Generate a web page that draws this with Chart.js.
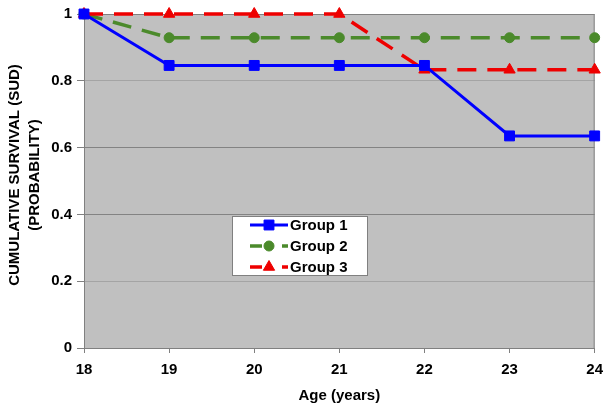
<!DOCTYPE html>
<html>
<head>
<meta charset="utf-8">
<script src="https://cdn.jsdelivr.net/npm/chart.js@4"></script>
<style>
html,body{margin:0;padding:0;background:#fff;}
#wrap{width:611px;height:414px;}
</style>
</head>
<body>
<div id="wrap"><canvas id="c" width="611" height="414"></canvas></div>
<script>
const ages = ['18','19','20','21','22','23','24'];
const group1 = [1, 0.846, 0.846, 0.846, 0.846, 0.635, 0.635];
const group2 = [1, 0.929, 0.929, 0.929, 0.929, 0.929, 0.929];
const group3 = [1, 1, 1, 1, 0.833, 0.833, 0.833];
const seriesNames = ['Group 1', 'Group 2', 'Group 3'];
const yTicks = [0, 0.2, 0.4, 0.6, 0.8, 1];
const xTitle = 'Age (years)';
const yTitle = ['CUMULATIVE SURVIVAL (SUD)', '(PROBABILITY)'];

const FONT = "'Liberation Sans', Arial, sans-serif";

const bgPlugin = {
  id: 'bg',
  beforeDraw(chart) {
    const {ctx, chartArea: a} = chart;
    ctx.save();
    ctx.fillStyle = '#c0c0c0';
    ctx.fillRect(a.left, a.top, a.right - a.left, a.bottom - a.top);
    ctx.restore();
  },
  beforeDatasetsDraw(chart) {
    const {ctx, chartArea: a} = chart;
    ctx.save();
    ctx.strokeStyle = '#808080';
    ctx.lineWidth = 1;
    ctx.strokeRect(a.left + 0.5, a.top + 0.5, a.right - a.left - 1, a.bottom - a.top);
    ctx.restore();
  }
};

const yTitlePlugin = {
  id: 'yTitle',
  afterDraw(chart) {
    const {ctx, chartArea: a} = chart;
    const cy = (a.top + a.bottom) / 2 - 6;
    ctx.save();
    ctx.fillStyle = '#000';
    ctx.font = 'bold 15px ' + FONT;
    ctx.textAlign = 'center';
    ctx.textBaseline = 'middle';
    yTitle.forEach((t, i) => {
      ctx.save();
      ctx.translate(14.5 + i * 20.5, cy);
      ctx.rotate(-Math.PI / 2);
      ctx.fillText(t, 0, 0);
      ctx.restore();
    });
    ctx.restore();
  }
};

const legendPlugin = {
  id: 'boxLegend',
  afterDraw(chart) {
    const {ctx, chartArea: a} = chart;
    const bx = a.left + 148, by = a.top + 202, bw = 136, bh = 60;
    ctx.save();
    ctx.fillStyle = '#ffffff';
    ctx.fillRect(bx, by, bw, bh);
    ctx.strokeStyle = '#808080';
    ctx.lineWidth = 1;
    ctx.strokeRect(bx + 0.5, by + 0.5, bw - 1, bh - 1);
    chart.data.datasets.forEach((ds, i) => {
      const cy = by + 9 + i * 21;
      const x0 = bx + 18, x1 = bx + 56, mx = (x0 + x1) / 2;
      ctx.save();
      ctx.strokeStyle = ds.borderColor;
      ctx.lineWidth = ds.borderWidth;
      ctx.setLineDash(ds.borderDash.length ? [12, 20] : []);
      ctx.beginPath();
      ctx.moveTo(x0, cy);
      ctx.lineTo(x1, cy);
      ctx.stroke();
      ctx.restore();
      ctx.save();
      ctx.fillStyle = ds.pointBackgroundColor;
      ctx.strokeStyle = ds.pointBorderColor;
      ctx.lineWidth = 1;
      Chart.helpers.drawPoint(ctx, {pointStyle: ds.pointStyle, radius: ds.pointRadius, borderWidth: 1, rotation: 0}, mx, cy);
      ctx.restore();
      ctx.fillStyle = '#000';
      ctx.font = 'bold 15px ' + FONT;
      ctx.textBaseline = 'middle';
      ctx.textAlign = 'left';
      ctx.fillText(ds.label, x1 + 2, cy + 1);
    });
    ctx.restore();
  }
};

const datasets = [
  {label: seriesNames[0], data: group1, borderColor: '#0000ff', backgroundColor: '#0000ff',
   pointBackgroundColor: '#0000ff', pointBorderColor: '#0000ff', borderWidth: 3,
   pointStyle: 'rect', pointRadius: 7, borderDash: [], order: 1},
  {label: seriesNames[1], data: group2, borderColor: '#4b8a2b', backgroundColor: '#4b8a2b',
   pointBackgroundColor: '#4b8a2b', pointBorderColor: '#4b8a2b', borderWidth: 3.5,
   pointStyle: 'circle', pointRadius: 5, borderDash: [19, 11], order: 3},
  {label: seriesNames[2], data: group3, borderColor: '#ee0000', backgroundColor: '#ee0000',
   pointBackgroundColor: '#ee0000', pointBorderColor: '#ee0000', borderWidth: 3.5,
   pointStyle: 'triangle', pointRadius: 6.5, borderDash: [19, 11], order: 2}
];

new Chart(document.getElementById('c'), {
  type: 'line',
  data: {labels: ages, datasets: datasets},
  options: {
    responsive: false,
    animation: false,
    devicePixelRatio: 1,
    layout: {padding: {top: 14, right: 15, left: 0, bottom: 0}},
    datasets: {line: {clip: false, tension: 0, pointBorderWidth: 1}},
    plugins: {legend: {display: false}, tooltip: {enabled: false}},
    scales: {
      x: {
        type: 'category',
        offset: false,
        grid: {display: true, drawOnChartArea: false, color: '#808080', tickLength: 5},
        border: {display: true, color: '#808080'},
        ticks: {color: '#000', padding: 8, maxRotation: 0, font: {family: FONT, size: 15, weight: 'bold'}},
        title: {display: true, text: xTitle, color: '#000', padding: {top: 0, bottom: 9},
                font: {family: FONT, size: 15, weight: 'bold'}},
        afterFit(s) { s.height = 66; }
      },
      y: {
        min: 0, max: 1,
        afterBuildTicks(s) { s.ticks = yTicks.map(v => ({value: v})); },
        grid: {
          color: c => (c.tick && (c.tick.value === 0.4 || c.tick.value === 0.6)) ? '#838383' : '#a4a4a4',
          tickColor: '#808080',
          tickLength: 7
        },
        border: {display: true, color: '#808080'},
        ticks: {color: '#000', padding: 5, font: {family: FONT, size: 15, weight: 'bold'},
                callback: v => String(v)},
        title: {display: false},
        afterFit(s) { s.width = 84; }
      }
    }
  },
  plugins: [bgPlugin, legendPlugin, yTitlePlugin]
});
</script>
</body>
</html>
